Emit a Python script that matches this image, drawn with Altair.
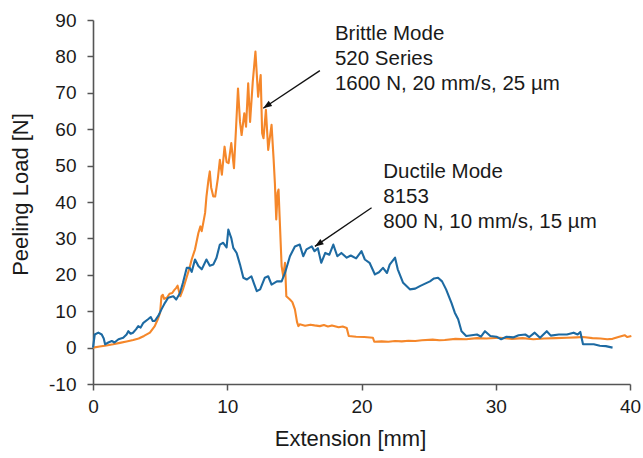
import altair as alt
import pandas as pd

# Brittle mode (520 Series) – orange
brittle_x = [0, 0.5, 1.0, 1.5, 2.0, 2.5, 3.0, 3.4, 3.8, 4.24, 4.6, 4.85, 5.0, 5.1, 5.2, 5.3, 5.5, 5.7, 5.9,
             6.05, 6.2, 6.3, 6.5, 6.7, 7.0, 7.2, 7.35, 7.6, 7.85, 8.0, 8.1, 8.35, 8.45, 8.6, 8.7, 8.8, 8.96,
             9.1, 9.3, 9.45, 9.6, 9.8, 9.95, 10.1, 10.3, 10.5, 10.65, 10.8, 10.95, 11.07, 11.27, 11.4, 11.56,
             11.7, 11.9, 12.1, 12.3, 12.49, 12.6, 12.7, 12.88, 13.05, 13.3, 13.45, 13.55, 13.65, 13.75, 13.82,
             13.9, 14.05, 14.17, 14.3, 14.4, 14.67, 14.85, 15.04, 15.2, 15.3, 15.4, 15.8, 16.2, 16.5, 16.9,
             17.2, 17.5, 17.8, 18.3, 18.6, 18.9, 19.05, 19.6, 20.2, 20.85, 20.95, 21.5, 22.0, 22.5, 23.0,
             23.5, 24.0, 24.5, 25.3, 25.8, 26.2, 27.0, 27.8, 28.6, 29.3, 30.3, 31.2, 32.0, 32.8, 33.6, 34.5,
             35.3, 36.0, 36.5, 37.2, 37.8, 38.3, 38.7, 39.2, 39.6, 39.8, 40.1]
brittle_y = [0, 0.3, 0.6, 0.9, 1.3, 1.7, 2.1, 2.5, 3.2, 4.1, 5.9, 8.0, 9.6, 14.1, 14.5, 13.4, 13.7, 14.8, 15.0,
             15.8, 16.4, 17.0, 14.1, 16.0, 19.6, 22.0, 24.2, 27.0, 31.5, 33.3, 32.0, 37.0, 41.5, 46.1, 48.4,
             44.0, 41.5, 41.5, 46.5, 51.6, 47.5, 55.2, 51.0, 50.7, 56.2, 49.3, 60.0, 71.2, 62.0, 58.4, 64.4,
             60.7, 72.6, 62.0, 73.0, 81.3, 68.9, 74.9, 58.9, 57.5, 65.3, 54.3, 61.2, 52.0, 45.0, 35.2, 42.5,
             43.4, 36.0, 22.4, 19.6, 23.3, 14.1, 13.2, 12.5, 10.5, 7.0, 5.9, 6.4, 6.0, 6.3, 6.1, 5.9, 6.2,
             5.8, 6.1, 5.6, 5.8, 5.4, 3.2, 3.0, 2.9, 2.7, 1.6, 1.7, 1.6, 1.8, 1.7, 1.9, 1.8, 2.0, 2.2, 2.0,
             2.1, 2.4, 2.3, 2.6, 2.5, 2.7, 2.4, 2.6, 2.3, 2.5, 2.6, 2.7, 2.8, 2.9, 2.6, 2.5, 2.3, 2.4, 3.0,
             3.4, 2.9, 3.2]

# Ductile mode (8153) – blue
ductile_x = [0, 0.13, 0.4, 0.65, 0.8, 0.9, 1.14, 1.4, 1.6, 1.9, 2.25, 2.5, 2.63, 2.8, 2.98, 3.2, 3.37, 3.55,
             3.75, 4.1, 4.3, 4.45, 4.6, 4.86, 5.1, 5.36, 5.6, 5.98, 6.2, 6.48, 6.7, 6.98, 7.2, 7.35, 7.6,
             7.85, 8.1, 8.45, 8.7, 8.96, 9.2, 9.45, 9.7, 9.95, 10.08, 10.3, 10.45, 10.7, 10.95, 11.2, 11.45,
             11.8, 12.0, 12.2, 12.45, 12.8, 13.05, 13.3, 13.7, 14.05, 14.3, 14.67, 15.04, 15.4, 15.66, 15.9,
             16.3, 16.5, 16.75, 17.0, 17.3, 17.6, 17.9, 18.2, 18.5, 18.9, 19.2, 19.6, 20.0, 20.25, 20.6, 21.0,
             21.3, 21.6, 21.9, 22.1, 22.5, 22.7, 23.1, 23.6, 24.0, 24.35, 24.7, 25.1, 25.4, 25.7, 26.0, 26.3,
             26.7, 26.95, 27.2, 27.45, 27.8, 28.2, 28.6, 28.9, 29.2, 29.6, 30.05, 30.4, 30.8, 31.3, 31.7,
             32.2, 32.5, 32.9, 33.3, 33.8, 34.1, 34.7, 35.3, 35.8, 36.1, 36.3, 36.5, 37.3, 37.75, 38.2, 38.7]
ductile_y = [0, 3.6, 4.1, 3.6, 2.5, 0.9, 1.4, 1.8, 1.4, 2.3, 2.7, 3.6, 4.5, 3.8, 4.1, 5.0, 5.9, 5.5,
             6.8, 7.8, 8.4, 7.3, 7.3, 8.7, 10.5, 12.3, 13.7, 14.1, 13.2, 15.0, 17.8, 21.9, 21.9, 20.8, 24.2,
             22.4, 21.5, 24.2, 22.5, 22.8, 24.7, 28.3, 28.8, 27.5, 32.4, 30.1, 27.4, 26.0, 22.8, 19.2, 18.7,
             19.6, 17.5, 15.5, 16.0, 19.2, 19.6, 17.3, 18.2, 18.2, 20.5, 25.1, 27.8, 28.3, 25.1, 27.0,
             27.8, 26.5, 27.3, 23.3, 26.0, 25.5, 28.3, 25.1, 26.0, 24.7, 25.3, 24.5, 26.5, 24.2, 23.3, 20.1,
             20.7, 21.9, 20.5, 22.8, 24.7, 21.5, 17.8, 16.0, 16.2, 16.9, 17.5, 18.2, 19.0, 19.2, 18.2, 16.0,
             12.3, 9.6, 7.8, 4.5, 3.2, 3.4, 3.6, 3.0, 4.5, 3.2, 3.0, 2.3, 3.0, 2.8, 3.4,
             3.6, 2.9, 4.1, 2.7, 4.5, 3.3, 3.6, 3.6, 4.1, 3.6, 4.3, 0.9, 0.9, 0.5, 0.4, 0.0]

series_names = ["Brittle", "Ductile"]
series_colors = ["#F5872A", "#1D6AA2"]

# Axis tick values
x_ticks = [0, 10, 20, 30, 40]
y_ticks = [-10, 0, 10, 20, 30, 40, 50, 60, 70, 80, 90]

# Annotation texts (data coordinates)
note_text = ["Brittle Mode", "520 Series", "1600 N, 20 mm/s, 25 µm",
             "Ductile Mode", "8153", "800 N, 10 mm/s, 15 µm"]
note_x = [18.02, 18.02, 18.02, 21.62, 21.62, 21.62]
note_y = [84.6, 77.7, 70.8, 46.6, 39.7, 32.9]

# Arrows: start -> tip
arrow_x = [16.9, 20.75]
arrow_y = [76.1, 38.4]
arrow_x2 = [12.68, 16.53]
arrow_y2 = [65.75, 27.8]

FONT = "Liberation Sans"

lines_df = pd.concat([
    pd.DataFrame({"x": brittle_x, "y": brittle_y, "s": "Brittle", "o": range(len(brittle_x))}),
    pd.DataFrame({"x": ductile_x, "y": ductile_y, "s": "Ductile", "o": range(len(ductile_x))}),
])
notes_df = pd.DataFrame({"x": note_x, "y": note_y, "t": note_text})
arrows_df = pd.DataFrame({"x": arrow_x, "y": arrow_y, "x2": arrow_x2, "y2": arrow_y2})

xscale = alt.Scale(domain=[0, 40], nice=False, zero=False)
yscale = alt.Scale(domain=[-10, 90], nice=False, zero=False)

lines = alt.Chart(lines_df).mark_line(strokeWidth=2.1, strokeJoin="round").encode(
    x=alt.X("x:Q", scale=xscale,
            axis=alt.Axis(title="Extension [mm]", values=x_ticks, tickCount=len(x_ticks),
                          titleX=257, titleY=54, titleBaseline="middle", titleAlign="center",
                          labelPadding=7,
                          labelOverlap=False, labelFlush=False, labelExpr="'' + datum.value")),
    y=alt.Y("y:Q", scale=yscale,
            axis=alt.Axis(title="Peeling Load [N]", values=y_ticks, tickCount=len(y_ticks),
                          titleX=-73, titleY=174, titleBaseline="middle", titleAlign="center",
                          labelPadding=11,
                          labelOverlap=False, labelFlush=False, labelExpr="'' + datum.value")),
    color=alt.Color("s:N", scale=alt.Scale(domain=series_names, range=series_colors), legend=None),
    order="o:Q",
    detail="s:N",
)

rules = alt.Chart(arrows_df).mark_rule(color="#111111", strokeWidth=1.3).encode(
    x="x:Q", y="y:Q", x2="x2:Q", y2="y2:Q"
)

heads = alt.Chart(arrows_df).mark_point(
    shape="M0,0L-0.36,1L0.36,1Z", filled=True, size=300, color="#111111", opacity=1, angle=236
).encode(x="x2:Q", y="y2:Q")

notes = alt.Chart(notes_df).mark_text(
    align="left", baseline="alphabetic", font=FONT, fontSize=20.5, color="#1a1a1a"
).encode(x="x:Q", y="y:Q", text="t:N")

chart = alt.layer(lines, rules, heads, notes).properties(
    width=537, height=364,
    autosize=alt.AutoSizeParams(type="none"),
    padding={"left": 93, "top": 20, "right": 13, "bottom": 74},
    background="white",
).configure_view(stroke=None).configure_axis(
    grid=False,
    domainColor="#555555", domainWidth=1.6,
    tickColor="#555555", tickWidth=1.5, tickSize=6,
    labelFont=FONT, labelFontSize=19, labelColor="#1a1a1a",
    titleFont=FONT, titleFontSize=22, titleFontWeight="normal", titleColor="#1a1a1a",
)

chart.save("out.html", embed_options={"renderer": "svg", "actions": False})
